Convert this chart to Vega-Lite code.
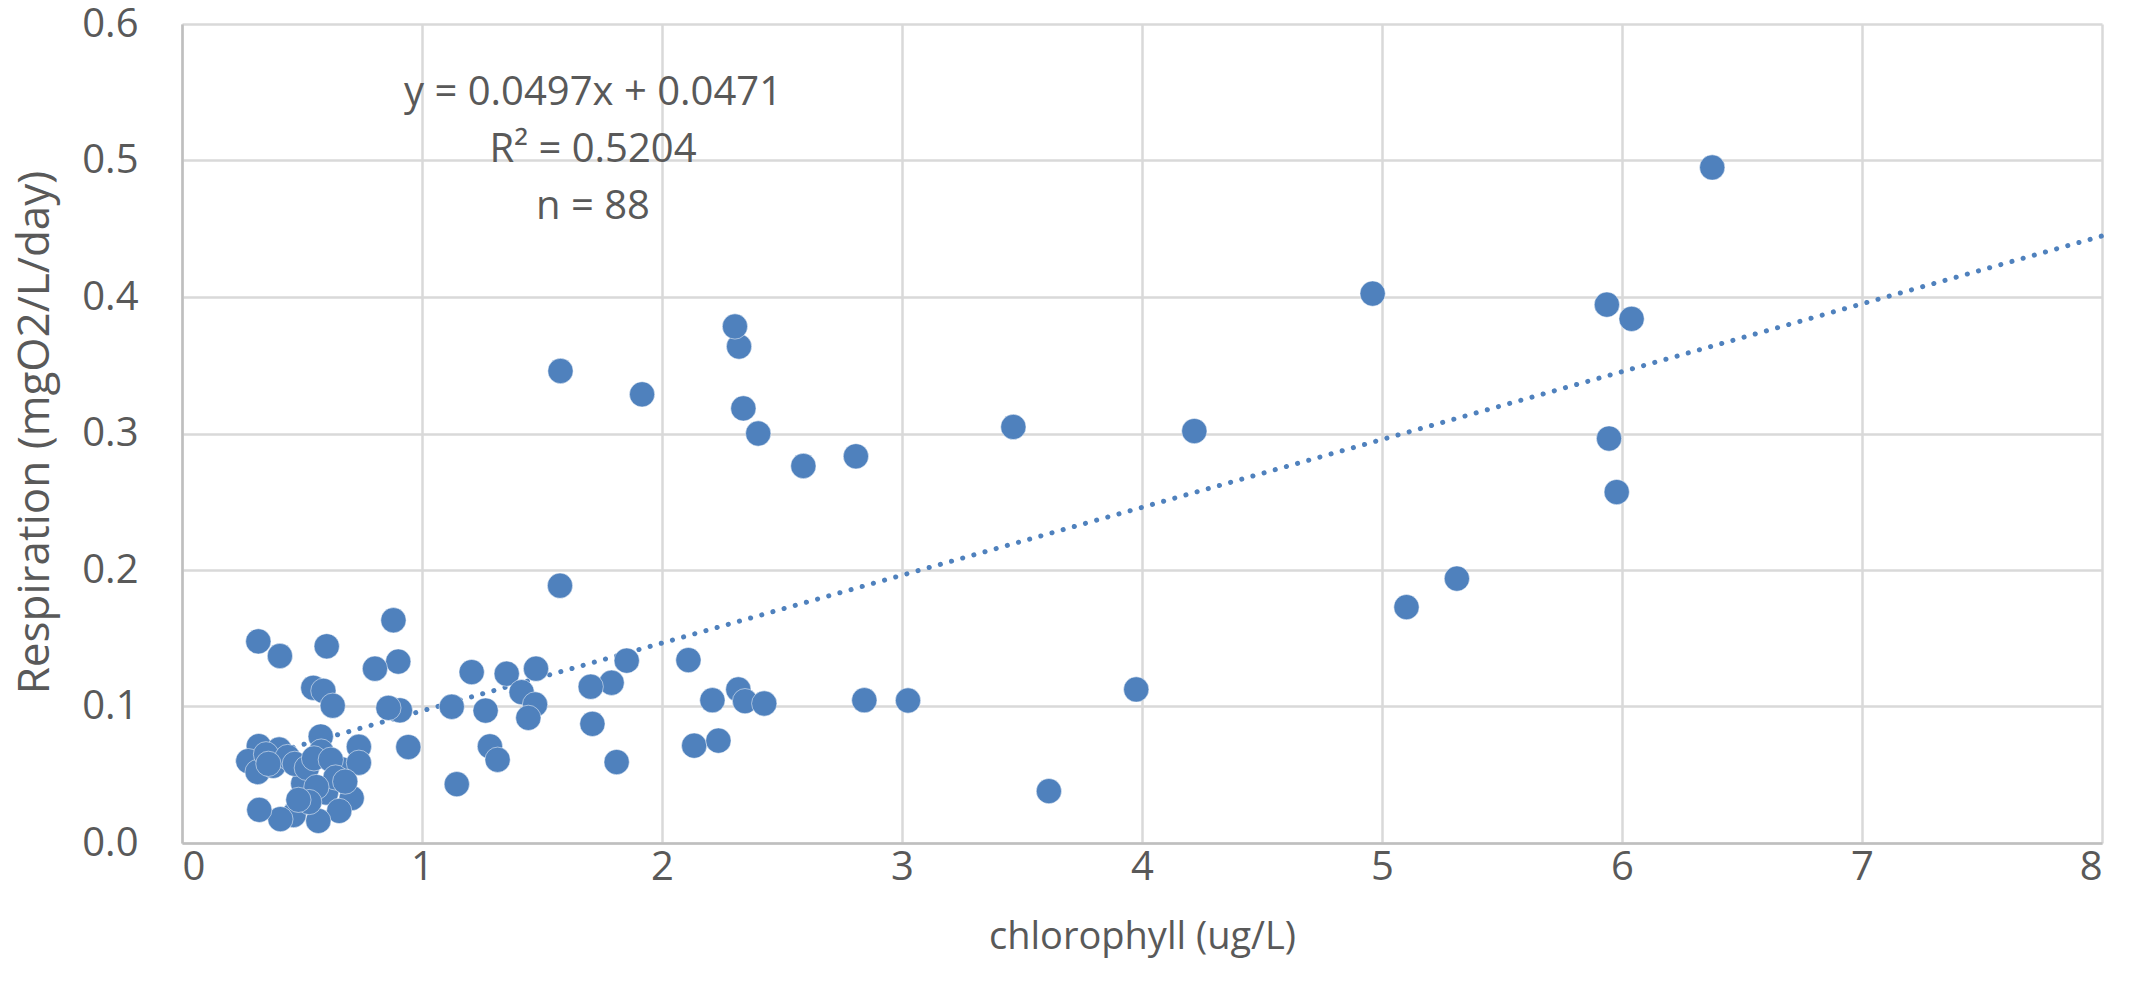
{
  "$schema": "https://vega.github.io/schema/vega-lite/v6.json",
  "width": 1920,
  "height": 819,
  "autosize": {"type": "none"},
  "padding": {"left": 182, "top": 24, "right": 31, "bottom": 159},
  "background": "white",
  "config": {
    "view": {"stroke": null},
    "font": "Open Sans",
    "axis": {
      "labelFont": "Open Sans",
      "labelFontSize": 40,
      "labelColor": "#595959",
      "titleFont": "Open Sans",
      "titleFontSize": 40,
      "titleFontWeight": "normal",
      "titleColor": "#595959",
      "gridColor": "#D9D9D9",
      "gridWidth": 2.5,
      "domainColor": "#BFBFBF",
      "domainWidth": 2.5,
      "ticks": false
    }
  },
  "datasets": {
    "points": [
      {"chl": 6.376, "resp": 0.4949},
      {"chl": 4.961, "resp": 0.4025},
      {"chl": 5.937, "resp": 0.3944},
      {"chl": 6.04, "resp": 0.384},
      {"chl": 5.946, "resp": 0.2963},
      {"chl": 5.978, "resp": 0.2571},
      {"chl": 5.102, "resp": 0.1728},
      {"chl": 5.312, "resp": 0.1937},
      {"chl": 4.218, "resp": 0.3018},
      {"chl": 3.464, "resp": 0.3048},
      {"chl": 3.976, "resp": 0.1125},
      {"chl": 3.612, "resp": 0.038},
      {"chl": 2.808, "resp": 0.2833},
      {"chl": 2.589, "resp": 0.2762},
      {"chl": 2.401, "resp": 0.3},
      {"chl": 2.339, "resp": 0.3184},
      {"chl": 2.321, "resp": 0.3637},
      {"chl": 2.304, "resp": 0.3784},
      {"chl": 1.917, "resp": 0.3287},
      {"chl": 1.577, "resp": 0.3458},
      {"chl": 1.575, "resp": 0.1885},
      {"chl": 2.11, "resp": 0.134},
      {"chl": 2.21, "resp": 0.1046},
      {"chl": 2.318, "resp": 0.1125},
      {"chl": 2.346, "resp": 0.1039},
      {"chl": 2.426, "resp": 0.1022},
      {"chl": 2.843, "resp": 0.1046},
      {"chl": 3.025, "resp": 0.1044},
      {"chl": 2.134, "resp": 0.0713},
      {"chl": 2.235, "resp": 0.075},
      {"chl": 1.853, "resp": 0.1336},
      {"chl": 1.79, "resp": 0.1174},
      {"chl": 1.703, "resp": 0.1145},
      {"chl": 1.71, "resp": 0.0873},
      {"chl": 1.811, "resp": 0.0593},
      {"chl": 1.475, "resp": 0.1277},
      {"chl": 1.353, "resp": 0.124},
      {"chl": 1.415, "resp": 0.1105},
      {"chl": 1.471, "resp": 0.1015},
      {"chl": 1.443, "resp": 0.0917},
      {"chl": 1.207, "resp": 0.1252},
      {"chl": 1.124, "resp": 0.0998},
      {"chl": 1.265, "resp": 0.097},
      {"chl": 1.283, "resp": 0.0708},
      {"chl": 1.315, "resp": 0.061},
      {"chl": 1.145, "resp": 0.0431},
      {"chl": 0.943, "resp": 0.0703},
      {"chl": 0.908, "resp": 0.0972},
      {"chl": 0.86, "resp": 0.099},
      {"chl": 0.901, "resp": 0.1329},
      {"chl": 0.804, "resp": 0.1277},
      {"chl": 0.881, "resp": 0.1632},
      {"chl": 0.603, "resp": 0.1441},
      {"chl": 0.408, "resp": 0.137},
      {"chl": 0.318, "resp": 0.1477},
      {"chl": 0.547, "resp": 0.1137},
      {"chl": 0.589, "resp": 0.1115},
      {"chl": 0.628, "resp": 0.1006},
      {"chl": 0.32, "resp": 0.071},
      {"chl": 0.276, "resp": 0.06},
      {"chl": 0.315, "resp": 0.052},
      {"chl": 0.405, "resp": 0.0685},
      {"chl": 0.38, "resp": 0.0565},
      {"chl": 0.578, "resp": 0.078},
      {"chl": 0.58, "resp": 0.067},
      {"chl": 0.665, "resp": 0.054},
      {"chl": 0.737, "resp": 0.0705},
      {"chl": 0.737, "resp": 0.0588},
      {"chl": 0.505, "resp": 0.0435},
      {"chl": 0.6, "resp": 0.037},
      {"chl": 0.707, "resp": 0.0329},
      {"chl": 0.655, "resp": 0.0235},
      {"chl": 0.568, "resp": 0.0162},
      {"chl": 0.465, "resp": 0.0205},
      {"chl": 0.41, "resp": 0.0175},
      {"chl": 0.322, "resp": 0.0243},
      {"chl": 0.35, "resp": 0.065},
      {"chl": 0.44, "resp": 0.063},
      {"chl": 0.47, "resp": 0.058},
      {"chl": 0.52, "resp": 0.055},
      {"chl": 0.55, "resp": 0.062},
      {"chl": 0.62, "resp": 0.061},
      {"chl": 0.64, "resp": 0.048},
      {"chl": 0.56, "resp": 0.041},
      {"chl": 0.53, "resp": 0.03},
      {"chl": 0.485, "resp": 0.0316},
      {"chl": 0.68, "resp": 0.045},
      {"chl": 0.36, "resp": 0.058}
    ],
    "trend": [
      {"chl": 0.276, "resp": 0.0608},
      {"chl": 8, "resp": 0.4447}
    ]
  },
  "layer": [
    {
      "data": {"name": "trend"},
      "mark": {"type": "line", "color": "#4F81BD", "strokeWidth": 5, "strokeCap": "round", "strokeDash": [0.1, 11.5]},
      "encoding": {
        "x": {
          "field": "chl", "type": "quantitative",
          "scale": {"domain": [0, 8], "nice": false, "zero": false},
          "axis": {"title": "chlorophyll (ug/L)", "values": [0,1,2,3,4,5,6,7,8], "format": "d", "labelPadding": 4, "titleFontSize": 38, "titleBaseline": "alphabetic", "titleY": 105, "grid": true, "domain": true}
        },
        "y": {
          "field": "resp", "type": "quantitative",
          "scale": {"domain": [0, 0.6], "nice": false},
          "axis": {"title": "Respiration (mgO2/L/day)", "values": [0,0.1,0.2,0.3,0.4,0.5,0.6], "format": ".1f", "labelPadding": 44, "titleFontSize": 44, "titleBaseline": "alphabetic", "titleAngle": -90, "titleX": -134, "titleY": 408, "titleAlign": "center", "grid": true}
        }
      }
    },
    {
      "data": {"name": "points"},
      "mark": {"type": "point", "shape": "circle", "filled": true, "size": 640, "color": "#4F81BD", "opacity": 1, "stroke": "white", "strokeWidth": 0.5},
      "encoding": {
        "x": {"field": "chl", "type": "quantitative"},
        "y": {"field": "resp", "type": "quantitative"}
      }
    },
    {
      "data": {"values": [{}]},
      "mark": {"type": "text", "font": "Open Sans", "fontSize": 40, "color": "#595959", "align": "center", "baseline": "alphabetic", "lineHeight": 57},
      "encoding": {
        "x": {"datum": 1.7125, "type": "quantitative"},
        "y": {"datum": 0.541, "type": "quantitative"},
        "text": {"value": ["y = 0.0497x + 0.0471", "R² = 0.5204", "n = 88"]}
      }
    }
  ]
}
